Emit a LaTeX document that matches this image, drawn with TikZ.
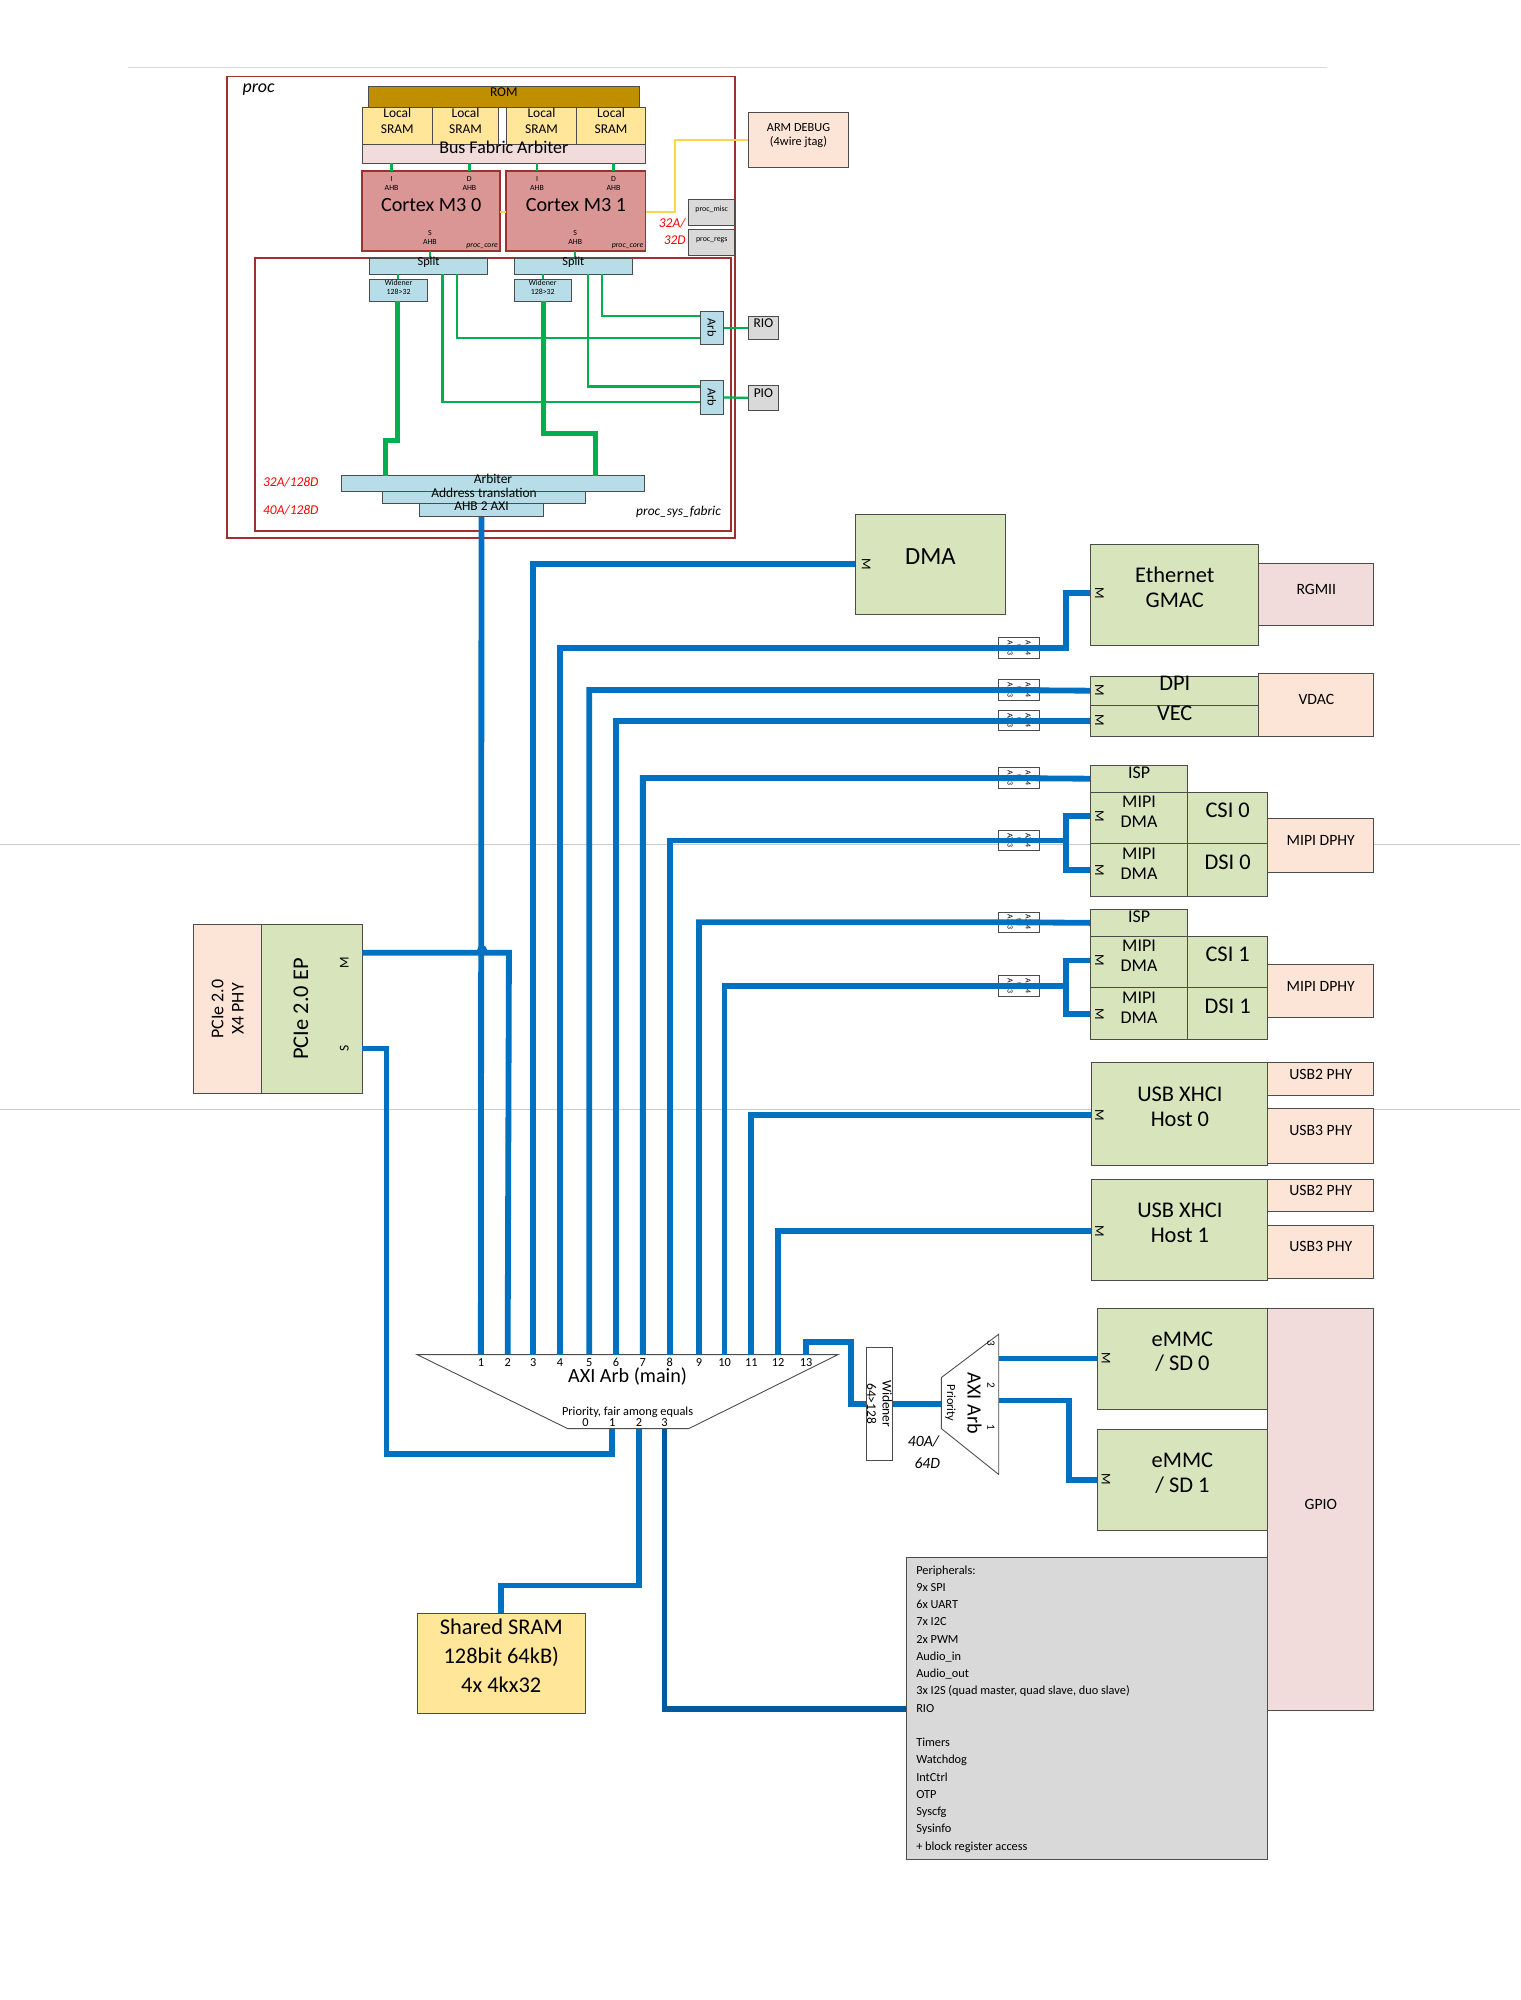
\documentclass[tikz,border=0pt]{standalone}
\usepackage{fontspec}
\setmainfont{Carlito}
\usetikzlibrary{fit, positioning}

\definecolor{axiblue}{HTML}{0070C0}
\definecolor{axidark}{HTML}{005A9E}
\definecolor{ahbgreen}{HTML}{00B050}
\definecolor{romgold}{HTML}{BF8F00}
\definecolor{sramyel}{HTML}{FFE699}
\definecolor{pinkish}{HTML}{F2DCDB}
\definecolor{peach}{HTML}{FCE4D6}
\definecolor{olive}{HTML}{D8E4BC}
\definecolor{coral}{HTML}{DA9694}
\definecolor{lblue}{HTML}{B7DEE8}
\definecolor{dred}{HTML}{A0302E}

\tikzset{
  blk/.style={draw=black!70, inner sep=0pt, align=center, font=\fontsize{10}{11}\selectfont},
  ip/.style={blk, fill=olive},
  phy/.style={blk, fill=peach, font=\fontsize{7}{8}\selectfont},
  fab/.style={blk, fill=lblue, font=\fontsize{5.5}{6}\selectfont},
  tiny/.style={font=\fontsize{3.5}{4}\selectfont, inner sep=0pt, align=center},
  conv/.style={blk, fill=white, font=\fontsize{3.5}{4}\selectfont, rotate=-90},
  mlab/.style={font=\fontsize{6}{7}\selectfont, rotate=-90, inner sep=0pt},
  redt/.style={font=\fontsize{6}{7}\selectfont\itshape, text=red, inner sep=0pt},
  axi/.style={draw=axiblue, line width=2.6pt},
  ahb/.style={draw=ahbgreen, line width=1pt},
  ahbw/.style={draw=ahbgreen, line width=2.2pt},
}

\begin{document}
\begin{tikzpicture}[x=0.02cm, y=-0.02cm]
\useasboundingbox (0,0) rectangle (1192,1568);

% page rules
\draw[black!15] (100,53) -- (1040,53);
\draw[black!20] (0,662) -- (1192,662);
\draw[black!20] (0,870) -- (1192,870);

% proc block
\draw[dred, thick] (178,60) rectangle (576,422);
\node[font=\fontsize{8}{9}\selectfont\itshape, anchor=west] at (184,70) {proc};
\node (rom) [blk, fill=romgold, font=\fontsize{6}{7}\selectfont, fit={(289,68) (501,84)}] {ROM};
\node (sram0) [blk, fill=sramyel, font=\fontsize{6}{7}\selectfont, fit={(284,84) (339,113)}] {Local\\SRAM};
\node (sram1) [blk, fill=sramyel, font=\fontsize{6}{7}\selectfont, fit={(339,84) (391,113)}] {Local\\SRAM};
\node (sram2) [blk, fill=sramyel, font=\fontsize{6}{7}\selectfont, fit={(397,84) (452,113)}] {Local\\SRAM};
\node (sram3) [blk, fill=sramyel, font=\fontsize{6}{7}\selectfont, fit={(452,84) (506,113)}] {Local\\SRAM};
\node (bfa) [blk, fill=pinkish, font=\fontsize{8}{9}\selectfont, fit={(284,113) (506,128)}] {Bus Fabric Arbiter};
\node (cm0) [blk, draw=dred, thick, fill=coral, font=\fontsize{9}{10}\selectfont, fit={(284,134) (392,197)}] {Cortex M3 0};
\node (cm1) [blk, draw=dred, thick, fill=coral, font=\fontsize{9}{10}\selectfont, fit={(397,134) (506,197)}] {Cortex M3 1};
\foreach \x/\t in {307/I, 368/D, 421/I, 481/D} {
  \draw[ahb] (\x,128) -- (\x,134);
  \node[tiny] at (\x,144) {\t\\AHB};
}
\foreach \x in {337, 451} {
  \node[tiny] at (\x,186) {S\\AHB};
  \node[tiny, font=\fontsize{3.5}{4}\selectfont\itshape] at (\x+41,193) {proc\_core};
  \draw[ahb] (\x,197) -- (\x,203);
}
\draw[yellow!60!orange!70, line width=1pt] (392,166) -- (397,166);
\node (dbg) [blk, fill=peach, font=\fontsize{5.5}{6.5}\selectfont, fit={(587,88) (665,131)}] {ARM DEBUG\\(4wire jtag)};
\draw[yellow!60!orange!70, line width=1pt] (cm1.east |- 0,166) -- (529,166) -- (529,110) -- (dbg.west |- 0,110);
\node (misc) [blk, fill=black!15, font=\fontsize{3.5}{4}\selectfont, fit={(540,156) (576,177)}] {proc\_misc};
\node (regs) [blk, fill=black!15, font=\fontsize{3.5}{4}\selectfont, fit={(540,180) (576,200)}] {proc\_regs};
\node[redt] at (527,175) {32A/};
\node[redt] at (529,188) {32D};

% proc_sys_fabric
\draw[dred, thick] (200,202) rectangle (573,416);
\node (spl0) [fab, fit={(290,203) (382,215)}] {Split};
\node (spl1) [fab, fit={(403,203) (496,215)}] {Split};
\node (wid0) [fab, font=\fontsize{3.5}{4}\selectfont, fit={(290,219) (335,236)}] {Widener\\128>32};
\node (wid1) [fab, font=\fontsize{3.5}{4}\selectfont, fit={(403,219) (448,236)}] {Widener\\128>32};
\node (arbr) [fab, fit={(549,244) (567,270)}] {};
\node[rotate=-90, font=\fontsize{5.5}{6}\selectfont] at (arbr) {Arb};
\node (arbp) [fab, fit={(549,298) (567,325)}] {};
\node[rotate=-90, font=\fontsize{5.5}{6}\selectfont] at (arbp) {Arb};
\node (rio) [blk, fill=black!15, font=\fontsize{6}{7}\selectfont, fit={(587,248) (610,266)}] {RIO};
\node (pio) [blk, fill=black!15, font=\fontsize{6}{7}\selectfont, fit={(587,302) (610,322)}] {PIO};
\node (arbt) [fab, font=\fontsize{6}{7}\selectfont, fit={(268,373) (505,385)}] {Arbiter};
\node (atr) [fab, font=\fontsize{6}{7}\selectfont, fit={(300,385) (459,395)}] {Address translation};
\node (a2a) [fab, font=\fontsize{6}{7}\selectfont, fit={(329,395) (426,405)}] {AHB 2 AXI};
\draw[ahb] (312,215) -- (312,219) (426,215) -- (426,219);
\draw[ahbw] (312,236) -- (312,345) -- (302,345) -- (302,373);
\draw[ahbw] (426,236) -- (426,340) -- (467,340) -- (467,373);
\draw[ahb] (358,215) -- (358,265) -- (arbr.west |- 0,265);
\draw[ahb] (472,215) -- (472,248) -- (arbr.west |- 0,248);
\draw[ahb] (347,215) -- (347,315) -- (arbp.west |- 0,315);
\draw[ahb] (461,215) -- (461,303) -- (arbp.west |- 0,303);
\draw[ahb] (arbr) -- (rio);
\draw[ahb] (arbp) -- (pio);
\node[redt] at (228,378) {32A/128D};
\node[redt] at (228,400) {40A/128D};
\node[font=\fontsize{6}{7}\selectfont\itshape, inner sep=0pt] at (532,401) {proc\_sys\_fabric};

% masters on the right
\node (dma) [ip, font=\fontsize{11}{12}\selectfont, fit={(671,403) (788,482)}] {DMA};
\node (eth) [ip, fit={(855,427) (987,506)}] {Ethernet\\GMAC};
\node (rgmii) [phy, fill=pinkish, fit={(987,442) (1077,490)}] {RGMII};
\node (dpi) [ip, fit={(855,530) (987,553)}] {DPI};
\node (vec) [ip, fit={(855,553) (987,577)}] {VEC};
\node (vdac) [phy, fit={(987,528) (1077,577)}] {VDAC};
\node (isp0) [ip, font=\fontsize{8}{9}\selectfont, fit={(855,600) (931,621)}] {ISP};
\node (mdma0) [ip, font=\fontsize{8}{9}\selectfont, fit={(855,621) (931,661)}] {MIPI\\DMA};
\node (csi0) [ip, fit={(931,621) (994,661)}] {CSI 0};
\node (mdma1) [ip, font=\fontsize{8}{9}\selectfont, fit={(855,661) (931,703)}] {MIPI\\DMA};
\node (dsi0) [ip, fit={(931,661) (994,703)}] {DSI 0};
\node (dphy0) [phy, fit={(994,642) (1077,684)}] {MIPI DPHY};
\node (isp1) [ip, font=\fontsize{8}{9}\selectfont, fit={(855,713) (931,734)}] {ISP};
\node (mdma2) [ip, font=\fontsize{8}{9}\selectfont, fit={(855,734) (931,774)}] {MIPI\\DMA};
\node (csi1) [ip, fit={(931,734) (994,774)}] {CSI 1};
\node (mdma3) [ip, font=\fontsize{8}{9}\selectfont, fit={(855,774) (931,815)}] {MIPI\\DMA};
\node (dsi1) [ip, fit={(931,774) (994,815)}] {DSI 1};
\node (dphy1) [phy, fit={(994,756) (1077,798)}] {MIPI DPHY};
\node (usb0) [ip, fit={(856,833) (994,914)}] {USB XHCI\\Host 0};
\node (u2p0) [phy, fit={(994,833) (1077,859)}] {USB2 PHY};
\node (u3p0) [phy, fit={(994,869) (1077,912)}] {USB3 PHY};
\node (usb1) [ip, fit={(856,925) (994,1004)}] {USB XHCI\\Host 1};
\node (u2p1) [phy, fit={(994,925) (1077,950)}] {USB2 PHY};
\node (u3p1) [phy, fit={(994,961) (1077,1002)}] {USB3 PHY};
\node (emmc0) [ip, fit={(860,1026) (994,1105)}] {eMMC\\/ SD 0};
\node (emmc1) [ip, fit={(860,1121) (994,1200)}] {eMMC\\/ SD 1};
\node (gpio) [phy, fill=pinkish, fit={(994,1026) (1077,1341)}] {GPIO};
\node (peri) [blk, fill=black!15, fit={(711,1221) (994,1458)}] {};
\node[anchor=north west, align=left, inner sep=0pt, font=\fontsize{5.5}{7.7}\selectfont] at (718,1227) {Peripherals:\\9x SPI\\6x UART\\7x I2C\\2x PWM\\Audio\_in\\Audio\_out\\3x I2S (quad master, quad slave, duo slave)\\RIO\\[7.7pt]Timers\\Watchdog\\IntCtrl\\OTP\\Syscfg\\Sysinfo\\+ block register access};
\foreach \x/\y in {679/442, 862/465, 862/541, 862/565, 862/640, 862/682, 862/753, 862/795, 862/874, 862/965, 867/1065, 867/1160}
  \node[mlab] at (\x,\y) {M};

% PCIe
\node (pphy) [blk, fill=peach, fit={(152,725) (205,857)}] {};
\node[rotate=90, align=center, font=\fontsize{8}{9}\selectfont] at (pphy) {PCIe 2.0\\X4 PHY};
\node (pep) [ip, fit={(205,725) (284,857)}] {};
\node[rotate=90, font=\fontsize{10}{11}\selectfont] at (236,791) {PCIe 2.0 EP};
\node[mlab, rotate=180] at (270,755) {M};
\node[mlab, rotate=180] at (270,822) {S};

% shared sram
\node (ssram) [blk, fill=sramyel, font=\fontsize{10}{13}\selectfont, fit={(327,1265) (459,1343)}] {Shared SRAM\\128bit 64kB)\\4x 4kx32};

% main AXI arbiter
\draw[black!70, fill=white] (327,1062) -- (657,1062) -- (540,1120) -- (445,1120) -- cycle;
\node[font=\fontsize{9}{10}\selectfont] at (492,1079) {AXI Arb (main)};
\node[font=\fontsize{5.5}{6}\selectfont, inner sep=0pt] at (492,1107) {Priority, fair among equals};
\foreach \n/\x in {1/377,2/398,3/418,4/439,5/462,6/483,7/504,8/525,9/548,10/568,11/589,12/610,13/632} {
  \coordinate (p\n) at (\x,1062);
  \node[font=\fontsize{5.5}{6}\selectfont, inner sep=0pt] at (\x,1068) {\n};
}
\foreach \n/\x in {0/459,1/480,2/501,3/521} {
  \coordinate (q\n) at (\x,1120);
  \node[font=\fontsize{5.5}{6}\selectfont, inner sep=0pt] at (\x,1115) {\n};
}

% second arbiter and widener
\node (wid) [blk, fill=white, fit={(679,1056) (700,1145)}] {};
\node[rotate=-90, align=center, font=\fontsize{6}{7}\selectfont] at (wid) {Widener\\64>128};
\draw[black!70, fill=white] (783,1046) -- (738,1080) -- (738,1120) -- (783,1156) -- cycle;
\node[rotate=-90, font=\fontsize{9}{10}\selectfont] at (764,1100) {AXI Arb};
\node[rotate=-90, font=\fontsize{5.5}{6}\selectfont] at (745,1100) {Priority};
\foreach \n/\y in {3/1053, 2/1086, 1/1119}
  \node[rotate=-90, font=\fontsize{5}{6}\selectfont, inner sep=0pt] at (777,\y) {\n};
\node[font=\fontsize{7}{8}\selectfont\itshape, inner sep=0pt] at (724,1130) {40A/};
\node[font=\fontsize{7}{8}\selectfont\itshape, inner sep=0pt] at (727,1147) {64D};

% AXI4 to AXI3 converters
\foreach \nm/\y in {ce/508, cd/541, cv/565, ci0/610, cm0/659, ci1/723, cm1/773}
  \node (\nm) [conv, minimum width=16*0.02cm, minimum height=32*0.02cm] at (799,\y) {AXI4\\to\\AXI3};

% AXI connections
\draw[axi] (a2a) -- (p1);
\coordinate (pm) at (284,747);
\coordinate (ps) at (284,822);
\draw[axi] (pm) -- (399,747) -- (p2);
\fill[axiblue] (378,745) circle (4);
\draw[axi] (p3) -- (418,442) -- (dma.west |- 0,442);
\draw[axi] (p4) -- (439,508) -- (ce.north);
\draw[axi] (ce.south) -- (836,508) -- (836,465) -- (eth.west |- 0,465);
\draw[axi] (p5) -- (462,541) -- (cd.north) (cd.south) -- (dpi.west);
\draw[axi] (p6) -- (483,565) -- (cv.north) (cv.south) -- (vec.west);
\draw[axi] (p7) -- (504,610) -- (ci0.north) (ci0.south) -- (isp0.west);
\draw[axi] (p8) -- (525,659) -- (cm0.north);
\draw[axi] (cm0.south) -- (836,659) (mdma0.west |- 0,640) -- (836,640) -- (836,682) -- (mdma1.west |- 0,682);
\draw[axi] (p9) -- (548,723) -- (ci1.north) (ci1.south) -- (isp1.west);
\draw[axi] (p10) -- (568,773) -- (cm1.north);
\draw[axi] (cm1.south) -- (836,773) (mdma2.west |- 0,753) -- (836,753) -- (836,795) -- (mdma3.west |- 0,795);
\draw[axi] (p11) -- (589,874) -- (usb0.west |- 0,874);
\draw[axi] (p12) -- (610,965) -- (usb1.west |- 0,965);
\draw[axi] (p13) -- (632,1052) -- (667,1052) -- (667,1101) -- (wid.west |- 0,1101);
\draw[axi] (wid.east |- 0,1101) -- (738,1101);
\draw[axi] (783,1065) -- (emmc0.west |- 0,1065);
\draw[axi] (783,1098) -- (838,1098) -- (838,1160) -- (emmc1.west |- 0,1160);
\draw[axi] (ps) -- (303,822) -- (303,1140) -- (480,1140) -- (q1);
\draw[axi] (q2) -- (501,1243) -- (393,1243) -- (ssram.north);
\draw[axi, draw=axidark] (q3) -- (521,1340) -- (peri.west |- 0,1340);
\end{tikzpicture}
\end{document}
